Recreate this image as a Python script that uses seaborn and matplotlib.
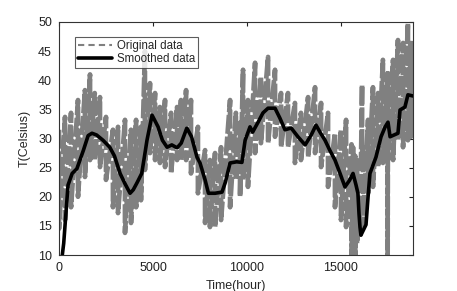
import matplotlib
matplotlib.use("Agg")
import matplotlib.pyplot as plt
import seaborn as sns
import pandas as pd

# Original (noisy) data: upper / lower envelope read at each time position
env_x = [0, 320, 640, 1010, 1380, 1650, 1900, 2180, 2500, 2870, 3140, 3510, 3830,
         4100, 4360, 4570, 4840, 5110, 5370, 5640, 5960, 6280, 6490, 6760, 7020,
         7390, 7770, 8030, 8300, 8620, 9100, 9410, 9630, 9790, 10050, 10430, 10740,
         11120, 11490, 11810, 12180, 12550, 12870, 13250, 13620, 13940, 14310,
         14680, 15000, 15270, 15560, 15640, 15760, 15850, 16010, 16120, 16170,
         16440, 16700, 16970, 17230, 17480, 17500, 17770, 18030, 18300, 18560,
         18720, 18830]
env_hi = [31.5, 33.7, 34.4, 36.6, 38.3, 41.0, 37.8, 37.1, 33.7, 31.5, 32.0, 33.2, 31.5,
          33.2, 32.0, 45.0, 39.5, 37.8, 35.4, 36.6, 34.4, 35.4, 36.6, 38.3, 36.6,
          32.0, 28.0, 26.3, 27.5, 28.5, 36.6, 34.4, 32.7, 41.8, 36.6, 43.0, 40.6,
          44.0, 41.8, 37.8, 37.8, 36.1, 34.4, 37.1, 38.8, 36.1, 34.4,
          30.9, 31.5, 33.2, 29.0, 28.5, 27.0, 26.3, 18.2, 39.2, 28.5,
          33.2, 38.8, 37.8, 43.5, 41.2, 41.2, 43.5, 46.9, 46.4, 49.8,
          46.9, 45.0]
env_lo = [14.5, 16.0, 18.2, 20.0, 23.4, 26.3, 26.3, 25.1, 22.9, 18.2, 17.2, 13.8, 15.5,
          18.2, 19.4, 24.6, 27.5, 26.3, 25.8, 25.1, 24.0, 26.3, 26.3, 26.3, 24.0,
          20.6, 15.5, 14.8, 14.8, 16.0, 18.2, 22.9, 20.0, 22.9, 21.7, 27.5, 29.2,
          29.2, 30.3, 28.5, 28.5, 25.8, 26.3, 26.8, 27.5, 25.1, 21.7,
          18.2, 16.0, 14.8, 8.0, 13.8, 8.0, 12.0, 13.0, 25.0, 14.8,
          20.6, 21.7, 25.1, 25.8, 8.0, 26.3, 26.3, 29.7, 28.5, 29.7,
          30.3, 31.0]

# Smoothed data
sm_x = [100, 250, 480, 700, 950, 1300, 1550, 1755, 2000, 2340, 2700, 2950, 3250,
        3500, 3780, 3950, 4150, 4400, 4550, 4680, 4950, 5270, 5500, 5750, 6000,
        6280, 6500, 6800, 7050, 7340, 7500, 7770, 7950, 8300, 8670, 8850, 9100,
        9450, 9730, 9900, 10160, 10300, 10590, 10850, 11120, 11490, 11750, 12020,
        12350, 12710, 13090, 13400, 13670, 13900, 14150, 14400, 14680, 14950,
        15210, 15450, 15640, 15800, 15900, 15960, 16010, 16060, 16330, 16440,
        16540, 16860, 17130, 17350, 17500, 17610, 18030, 18140, 18400, 18560, 18830]
sm_y = [8.0, 12.0, 22.0, 24.0, 24.8, 28.0, 30.5, 30.9, 30.6, 29.7, 28.5, 27.0, 24.0,
        22.3, 20.6, 21.2, 22.4, 24.0, 27.0, 29.7, 34.0, 32.0, 29.7, 28.5, 28.9,
        28.4, 29.2, 31.8, 30.3, 26.8, 25.8, 22.9, 20.6, 20.6, 20.8, 22.5, 25.8,
        26.0, 25.9, 29.7, 32.0, 31.1, 32.8, 34.4, 35.2, 35.2, 33.5, 31.5,
        31.8, 30.3, 28.9, 30.5, 32.3, 31.0, 29.7, 28.0, 26.3, 24.0,
        21.7, 22.8, 24.0, 22.0, 20.6, 17.0, 14.8, 13.4, 15.2, 20.0,
        24.0, 26.8, 30.3, 32.0, 32.8, 30.3, 30.9, 34.9, 35.4, 37.5, 37.3]

x_ticks = [0, 5000, 10000, 15000]
y_ticks = [10, 15, 20, 25, 30, 35, 40, 45, 50]

# Zigzag series for original data (vertical hi->lo at each read position)
orig_x, orig_y = [], []
for xv, h, l in zip(env_x, env_hi, env_lo):
    orig_x += [xv, xv]
    orig_y += [h, l]
orig = pd.DataFrame({"t": orig_x, "T": orig_y})
smooth = pd.DataFrame({"t": sm_x, "T": sm_y})

sns.set_style("white")
plt.rcParams["font.family"] = ["Liberation Sans", "DejaVu Sans"]

fig = plt.figure(figsize=(4.57, 2.91), dpi=100)
ax = fig.add_axes([59 / 457, 1 - 255 / 291, (413 - 59) / 457, (255 - 22) / 291])

sns.lineplot(data=orig, x="t", y="T", ax=ax, sort=False, estimator=None,
             color="#808080", linewidth=3.4, linestyle=(0, (4, 0.6)),
             label="Original data")
sns.lineplot(data=smooth, x="t", y="T", ax=ax, sort=False, estimator=None,
             color="black", linewidth=2.6, label="Smoothed data")

ax.set_xlim(0, 18830)
ax.set_ylim(10, 50)
ax.set_xticks(x_ticks)
ax.set_yticks(y_ticks)
ax.tick_params(direction="in", length=3, width=0.8, top=True, right=True,
               labelsize=9, colors="#222222", pad=5)
for s in ax.spines.values():
    s.set_visible(True)
    s.set_color("#333333")
    s.set_linewidth(0.8)
ax.set_xlabel("Time(hour)", fontsize=9, labelpad=4)
ax.set_ylabel("T(Celsius)", fontsize=9, labelpad=5)

leg = ax.legend(loc="upper left", bbox_to_anchor=(0.045, 0.936), borderaxespad=0,
                fontsize=8.3, frameon=True, fancybox=False, handlelength=3.0,
                borderpad=0.25, labelspacing=0.1, handletextpad=0.4)
leg.get_frame().set_edgecolor("#333333")
leg.get_frame().set_linewidth(0.8)
for h in leg.get_lines():
    if h.get_color() == "#808080":
        h.set_linewidth(1.5)
        h.set_linestyle((0, (3, 2)))

fig.savefig("out.png", dpi=100)
